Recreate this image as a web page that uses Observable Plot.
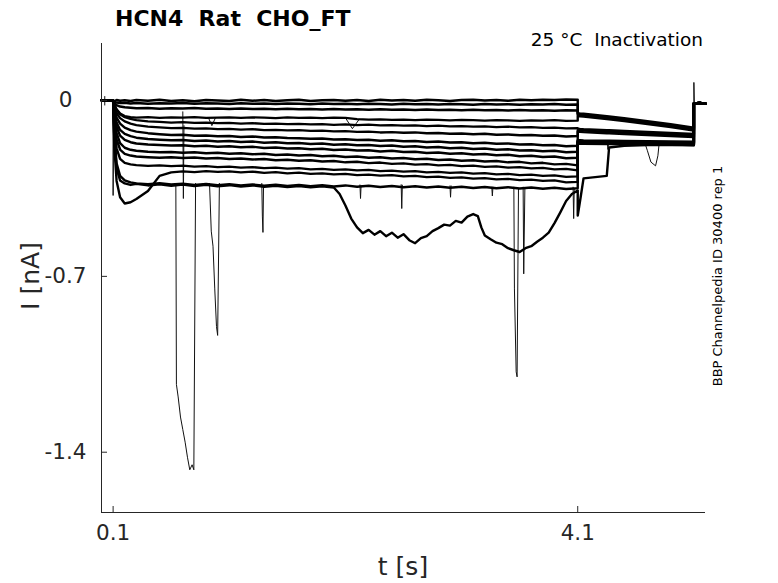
<!DOCTYPE html>
<html><head><meta charset="utf-8">
<script src="https://cdn.jsdelivr.net/npm/d3@7"></script>
<script src="https://cdn.jsdelivr.net/npm/@observablehq/plot@0.6"></script>
<style>
body{margin:0;background:#fff;}
#wrap{position:relative;width:778px;height:583px;font-family:"DejaVu Sans",sans-serif;overflow:hidden;}
#wrap svg{position:absolute;left:0;top:0;}
.t{position:absolute;white-space:pre;line-height:1;}
</style></head><body>
<div id="wrap">
<div id="chart"></div>
<div class="t" style="left:115px;top:8px;font-size:22px;font-weight:bold;color:#000;">HCN4  Rat  CHO_FT</div>
<div class="t" style="right:75px;top:31px;font-size:18.5px;color:#000;">25 °C  Inactivation</div>
<div class="t" style="left:717px;top:276px;font-size:13px;color:#000;transform:translate(-50%,-50%) rotate(-90deg);">BBP Channelpedia ID 30400 rep 1</div>
<div class="t" style="left:403px;top:554px;font-size:25px;color:#262626;transform:translateX(-50%);">t [s]</div>
<div class="t" style="left:30px;top:276px;font-size:25px;color:#262626;transform:translate(-50%,-50%) rotate(-90deg);">I [nA]</div>
</div>
<script>
// time grids (s)
const tPre = [0, 0.05, 0.1];
const preVals = [0.001, -0.001, 0.0];
const tStep = [0.1,0.11,0.13,0.16,0.2,0.25,0.3,0.4,0.5,0.6,0.7,0.8,0.9,1.0,1.1,1.2,1.3,1.4,1.5,1.6,1.7,1.8,1.9,2.0,2.1,2.2,2.3,2.4,2.5,2.6,2.7,2.8,2.9,3.0,3.1,3.2,3.3,3.4,3.5,3.6,3.7,3.8,3.9,4.0,4.1];
const tTail = [4.1, 4.12, 4.15, 4.35, 4.37, 4.5, 4.7, 4.9, 5.1];
const tPost = [5.1, 5.15, 5.2];
const postVals = [-0.012, -0.010, -0.013];

// step currents (nA), one array per sweep
const s01 = [0.000,-0.002,0.002,-0.001,0.001, -0.002,0.002,-0.001,0.003,-0.002, 0.001,-0.003,0.002,0.000,-0.002, 0.003,-0.001,0.002,-0.002,0.001, 0.003,-0.002,0.001,0.002,-0.001, 0.002,-0.002,0.003,0.000,0.002, -0.001,0.003,0.001,-0.002,0.002, 0.003,0.000,0.002,-0.001,0.003, 0.001,0.003,0.002,0.004,0.003];
const s02 = [0.000,-0.005,-0.008,-0.010,-0.009, -0.012,-0.010,-0.013,-0.011,-0.012, -0.010,-0.013,-0.011,-0.012,-0.014, -0.011,-0.013,-0.012,-0.014,-0.012, -0.013,-0.015,-0.012,-0.014,-0.013, -0.015,-0.013,-0.014,-0.016,-0.013, -0.015,-0.014,-0.016,-0.014,-0.015, -0.017,-0.014,-0.016,-0.015,-0.017, -0.015,-0.016,-0.014,-0.017,-0.016];
const s03 = [0.000,-0.010,-0.018,-0.024,-0.027, -0.029,-0.031,-0.030,-0.033,-0.031, -0.032,-0.030,-0.033,-0.032,-0.034, -0.032,-0.034,-0.033,-0.035,-0.033, -0.035,-0.034,-0.036,-0.034,-0.036, -0.035,-0.037,-0.035,-0.037,-0.036, -0.038,-0.036,-0.038,-0.037,-0.039, -0.037,-0.039,-0.038,-0.040,-0.038, -0.040,-0.039,-0.041,-0.039,-0.040];
const s04 = [0.000,-0.015,-0.035,-0.052,-0.062, -0.066,-0.068,-0.066,-0.069,-0.067, -0.068,-0.066,-0.069,-0.068,-0.067, -0.069,-0.067,-0.068,-0.070,-0.067, -0.069,-0.068,-0.070,-0.068,-0.069, -0.074,-0.076,-0.075,-0.077,-0.076, -0.078,-0.076,-0.077,-0.079,-0.077, -0.078,-0.080,-0.078,-0.079,-0.081, -0.079,-0.080,-0.078,-0.081,-0.080];
const s05 = [0.000,-0.018,-0.038,-0.055,-0.066, -0.073,-0.078,-0.083,-0.085,-0.088, -0.086,-0.089,-0.088,-0.090,-0.089, -0.092,-0.090,-0.093,-0.092,-0.094, -0.093,-0.095,-0.094,-0.097,-0.095, -0.098,-0.096,-0.099,-0.098,-0.100, -0.099,-0.102,-0.100,-0.103,-0.102, -0.104,-0.103,-0.106,-0.104,-0.107, -0.106,-0.109,-0.108,-0.111,-0.110];
const s06 = [0.000,-0.025,-0.050,-0.070,-0.083, -0.092,-0.098,-0.104,-0.107,-0.110, -0.109,-0.112,-0.111,-0.114,-0.113, -0.116,-0.114,-0.118,-0.117,-0.119, -0.118,-0.121,-0.120,-0.123,-0.122, -0.125,-0.124,-0.127,-0.126,-0.128, -0.127,-0.130,-0.129,-0.132,-0.131, -0.134,-0.132,-0.136,-0.135,-0.138, -0.137,-0.140,-0.139,-0.143,-0.141];
const s07 = [0.000,-0.035,-0.068,-0.092,-0.108, -0.118,-0.124,-0.130,-0.134,-0.137, -0.136,-0.140,-0.139,-0.142,-0.141, -0.145,-0.143,-0.147,-0.146,-0.149, -0.150,-0.152,-0.151,-0.155,-0.154, -0.157,-0.156,-0.160,-0.158,-0.162, -0.161,-0.165,-0.163,-0.167,-0.166, -0.170,-0.168,-0.172,-0.171,-0.175, -0.174,-0.178,-0.177,-0.182,-0.180];
const s08 = [0.000,-0.045,-0.088,-0.117,-0.133, -0.142,-0.148,-0.153,-0.156,-0.158, -0.157,-0.161,-0.159,-0.163,-0.161, -0.165,-0.163,-0.168,-0.166,-0.170, -0.169,-0.173,-0.171,-0.176,-0.174, -0.178,-0.177,-0.181,-0.179,-0.184, -0.182,-0.187,-0.185,-0.190,-0.188, -0.193,-0.191,-0.196,-0.194,-0.199, -0.198,-0.202,-0.200,-0.206,-0.204];
const s09 = [0.000,-0.055,-0.105,-0.140,-0.157, -0.166,-0.171,-0.175,-0.177,-0.179, -0.178,-0.182,-0.180,-0.184,-0.182, -0.186,-0.184,-0.189,-0.187,-0.191, -0.190,-0.194,-0.192,-0.197,-0.195, -0.199,-0.198,-0.203,-0.200,-0.205, -0.204,-0.209,-0.207,-0.212,-0.210, -0.215,-0.213,-0.218,-0.216,-0.222, -0.220,-0.225,-0.223,-0.230,-0.228];
const s10 = [0.000,-0.070,-0.130,-0.170,-0.188, -0.196,-0.200,-0.204,-0.206,-0.205, -0.208,-0.206,-0.210,-0.208,-0.212, -0.210,-0.214,-0.212,-0.217,-0.215, -0.219,-0.217,-0.222,-0.220,-0.225, -0.223,-0.228,-0.226,-0.231,-0.229, -0.234,-0.232,-0.237,-0.235,-0.240, -0.238,-0.243,-0.241,-0.246,-0.244, -0.250,-0.248,-0.254,-0.252,-0.258];
const s11 = [0.000,-0.085,-0.155,-0.195,-0.212, -0.219,-0.223,-0.226,-0.228,-0.226, -0.229,-0.227,-0.231,-0.229,-0.233, -0.231,-0.235,-0.233,-0.238,-0.236, -0.240,-0.238,-0.243,-0.241,-0.246, -0.244,-0.249,-0.247,-0.252,-0.250, -0.255,-0.253,-0.258,-0.256,-0.261, -0.259,-0.264,-0.262,-0.267,-0.265, -0.270,-0.268,-0.274,-0.272,-0.278];
const s12 = [0.000,-0.110,-0.190,-0.232,-0.248, -0.254,-0.257,-0.260,-0.258,-0.261, -0.259,-0.263,-0.261,-0.265,-0.263, -0.267,-0.265,-0.269,-0.267,-0.271, -0.269,-0.274,-0.272,-0.276,-0.274, -0.278,-0.276,-0.281,-0.279,-0.283, -0.281,-0.286,-0.284,-0.288,-0.286, -0.291,-0.289,-0.294,-0.292,-0.297, -0.295,-0.300,-0.298,-0.304,-0.302];
const s13 = [0.000,-0.180,-0.320,-0.385,-0.410, -0.405,-0.392,-0.360,-0.300,-0.286, -0.282,-0.285,-0.281,-0.284,-0.282, -0.286,-0.283,-0.288,-0.285,-0.290, -0.287,-0.292,-0.290,-0.294,-0.292, -0.297,-0.295,-0.299,-0.297,-0.302, -0.300,-0.305,-0.303,-0.308,-0.306, -0.311,-0.309,-0.314,-0.312,-0.317, -0.315,-0.320,-0.318,-0.326,-0.324];
const s14 = [0.000,-0.140,-0.250,-0.300,-0.318, -0.326,-0.330,-0.333,-0.329,-0.334, -0.331,-0.336,-0.332,-0.337,-0.333, -0.338,-0.334,-0.339,-0.335,-0.340, -0.336,-0.341,-0.337,-0.342,-0.338, -0.343,-0.339,-0.344,-0.340,-0.345, -0.341,-0.346,-0.342,-0.347,-0.343, -0.348,-0.344,-0.349,-0.345,-0.350, -0.346,-0.351,-0.347,-0.352,-0.349];
// sweep 15 follows tStep up to 2.0 s, then the slow excursion below (tDev)
const s15 = [0.000,-0.150,-0.270,-0.318,-0.330, -0.336,-0.332,-0.338,-0.334,-0.339, -0.335,-0.340,-0.336,-0.341,-0.337, -0.342,-0.338,-0.343,-0.339,-0.344, -0.340,-0.345,-0.341,-0.346];
const tDev = [2.05,2.1,2.15,2.2,2.25,2.3,2.35,2.4,2.45,2.5,2.55,2.6,2.65,2.7,2.75,2.8,2.85,2.9,2.95,3.0,3.05,3.1,3.15,3.2,3.24,3.27,3.3,3.35,3.4,3.45,3.5,3.55,3.6,3.65,3.7,3.75,3.8,3.85,3.9,3.95,4.0,4.05,4.1];
const dev15 = [-0.372,-0.418,-0.470,-0.505,-0.528,-0.515,-0.534,-0.520,-0.540,-0.526,-0.546,-0.532,-0.556,-0.568,-0.548,-0.540,-0.520,-0.508,-0.494,-0.498,-0.479,-0.486,-0.462,-0.452,-0.460,-0.505,-0.537,-0.552,-0.566,-0.572,-0.588,-0.596,-0.603,-0.588,-0.580,-0.562,-0.546,-0.526,-0.488,-0.445,-0.400,-0.372,-0.358];

// tail currents (nA) after the step
const tail01 = [-0.050,-0.051,-0.052,-0.062,-0.063,-0.070,-0.082,-0.094,-0.108];
const tail02 = [-0.054,-0.055,-0.056,-0.066,-0.067,-0.074,-0.086,-0.098,-0.112];
const tail03 = [-0.058,-0.059,-0.060,-0.070,-0.071,-0.078,-0.090,-0.102,-0.116];
const tail04 = [-0.062,-0.063,-0.064,-0.074,-0.075,-0.082,-0.094,-0.106,-0.120];
const tail05 = [-0.112,-0.113,-0.114,-0.118,-0.118,-0.121,-0.125,-0.129,-0.133];
const tail06 = [-0.118,-0.119,-0.120,-0.124,-0.124,-0.127,-0.131,-0.135,-0.139];
const tail07 = [-0.124,-0.125,-0.126,-0.130,-0.130,-0.133,-0.137,-0.141,-0.145];
const tail08 = [-0.158,-0.158,-0.159,-0.160,-0.160,-0.161,-0.162,-0.163,-0.164];
const tail09 = [-0.161,-0.161,-0.162,-0.163,-0.163,-0.164,-0.165,-0.166,-0.167];
const tail10 = [-0.163,-0.163,-0.164,-0.165,-0.165,-0.166,-0.167,-0.168,-0.169];
const tail11 = [-0.165,-0.166,-0.166,-0.167,-0.167,-0.168,-0.169,-0.170,-0.171];
const tail12 = [-0.167,-0.168,-0.168,-0.169,-0.169,-0.170,-0.171,-0.172,-0.173];
const tail13 = [-0.169,-0.170,-0.170,-0.171,-0.171,-0.172,-0.173,-0.174,-0.175];
const tail14 = [-0.171,-0.172,-0.172,-0.173,-0.173,-0.174,-0.175,-0.176,-0.177];
const tail15 = [-0.458,-0.400,-0.310,-0.300,-0.187,-0.180,-0.177,-0.176,-0.178];

// brief events (spikes / transients) as [t, I] pairs
const dips = [
  [[0.028,0.016],[0.028,-0.018]],
  [[0.1,0],[0.1,-0.378],[0.104,-0.05]],
  [[0.64,-0.33],[0.645,-1.13],[0.66,-1.18],[0.68,-1.26],[0.7,-1.31],[0.72,-1.36],[0.74,-1.42],[0.76,-1.47],[0.78,-1.45],[0.795,-1.47],[0.81,-0.33]],
  [[0.7,-0.045],[0.705,-0.39],[0.71,-0.1]],
  [[0.93,-0.33],[0.945,-0.52],[0.96,-0.58],[0.975,-0.75],[0.99,-0.9],[1.0,-0.935],[1.015,-0.33]],
  [[0.92,-0.068],[0.95,-0.1],[0.98,-0.07]],
  [[1.38,-0.33],[1.385,-0.46],[1.39,-0.525],[1.395,-0.34]],
  [[2.1,-0.069],[2.16,-0.112],[2.22,-0.074]],
  [[2.225,-0.336],[2.23,-0.39],[2.235,-0.338]],
  [[2.58,-0.335],[2.585,-0.43],[2.59,-0.337]],
  [[3.0,-0.34],[3.005,-0.385],[3.01,-0.34]],
  [[3.36,-0.345],[3.365,-0.38],[3.37,-0.345]],
  [[3.55,-0.345],[3.555,-0.75],[3.57,-1.08],[3.578,-1.1],[3.59,-0.35]],
  [[3.63,-0.345],[3.635,-0.69],[3.645,-0.35]],
  [[4.06,-0.345],[4.065,-0.47],[4.07,-0.35]],
  [[4.355,-0.17],[4.36,-0.195],[4.365,-0.17]],
  [[4.68,-0.172],[4.7,-0.2],[4.73,-0.245],[4.77,-0.26],[4.79,-0.22],[4.8,-0.175]],
  [[5.1,-0.17],[5.1,0.072],[5.104,-0.012]]
];

// axis ticks
const xTicks = [0.1, 4.1];
const yTicks = [0, -0.7, -1.4];

const steps = [s01,s02,s03,s04,s05,s06,s07,s08,s09,s10,s11,s12,s13,s14,s15];
const tails = [tail01,tail02,tail03,tail04,tail05,tail06,tail07,tail08,tail09,tail10,tail11,tail12,tail13,tail14,tail15];

const zip = (ts, vs) => vs.map((v, i) => [ts[i], v]);
const sweeps = steps.map((s, k) => [
  ...zip(tPre, preVals),
  ...zip(tStep, s),
  ...(k === 14 ? zip(tDev, dev15) : []),
  ...zip(tTail, tails[k]),
  ...zip(tPost, postVals)
]);

const axisColor = "#262626";
const plot = Plot.plot({
  width: 778, height: 583,
  marginLeft: 101, marginRight: 73, marginTop: 43, marginBottom: 71,
  x: {domain: [0, 5.2]},
  y: {domain: [-1.64, 0.227]},
  style: {background: "transparent", fontFamily: "DejaVu Sans", color: axisColor},
  marks: [
    ...dips.map(d => Plot.line(d, {x: p => p[0], y: p => p[1], stroke: "#111", strokeWidth: 1})),
    ...sweeps.map(d => Plot.line(d, {x: p => p[0], y: p => p[1], stroke: "#000", strokeWidth: 2.4})),
    Plot.ruleX([0], {stroke: axisColor, strokeWidth: 1}),
    Plot.ruleY([-1.64], {stroke: axisColor, strokeWidth: 1}),
    Plot.tickX(xTicks, {x: d => d, stroke: axisColor, insetTop: 463}),
    Plot.tickY(yTicks, {y: d => d, stroke: axisColor, insetRight: 598}),
    Plot.axisX({ticks: xTicks, tickSize: 0, tickPadding: 12, fontSize: 21.5, label: null, tickFormat: d => String(d), fill: axisColor}),
    Plot.axisY({ticks: yTicks, tickSize: 0, tickPadding: 36, textAnchor: "middle", fontSize: 21.5, label: null, tickFormat: d => String(d), fill: axisColor})
  ]
});
document.getElementById("chart").appendChild(plot);
</script>
</body></html>
